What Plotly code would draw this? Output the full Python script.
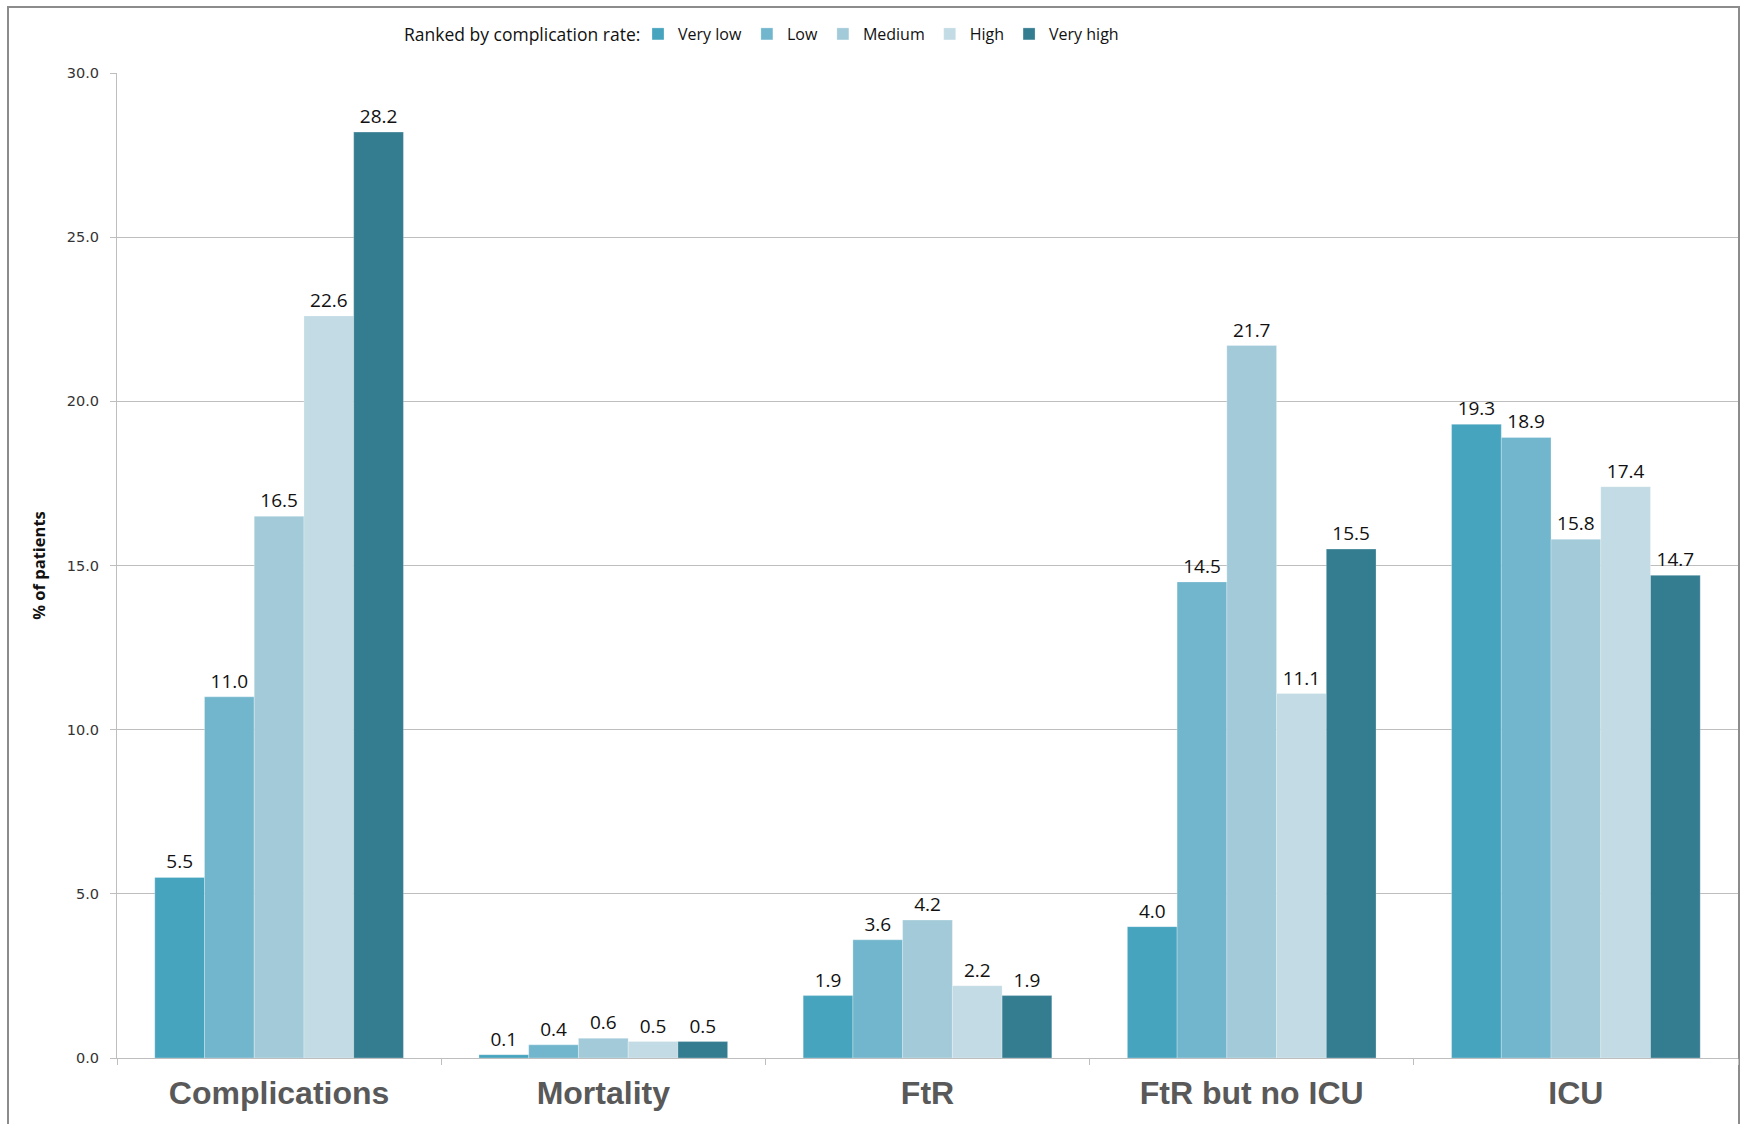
import plotly.graph_objects as go

# Outcome categories and ranking groups
categories = ["Complications", "Mortality", "FtR", "FtR but no ICU", "ICU"]
groups = ["Very low", "Low", "Medium", "High", "Very high"]

# % of patients per ranking group, in category order
very_low = [5.5, 0.1, 1.9, 4.0, 19.3]
low = [11.0, 0.4, 3.6, 14.5, 18.9]
medium = [16.5, 0.6, 4.2, 21.7, 15.8]
high = [22.6, 0.5, 2.2, 11.1, 17.4]
very_high = [28.2, 0.5, 1.9, 15.5, 14.7]

series = [very_low, low, medium, high, very_high]
colors = ["#47A4BE", "#72B6CD", "#A2CAD9", "#C2DBE4", "#347C90"]

W, H = 1741, 1124
ML, MR, MT, MB = 117, 3, 73, 66
PW = W - ML - MR
PH = H - MT - MB

fig = go.Figure()
for name, vals, col in zip(groups, series, colors):
    fig.add_trace(go.Bar(
        x=categories, y=vals, name=name,
        marker=dict(color=col, line=dict(color="rgba(255,255,255,0.45)", width=0.6)),
        text=[f"{v:.1f}" for v in vals], textposition="outside",
        textfont=dict(family="Open Sans", size=19, color="#111111"),
        cliponaxis=False,
    ))

legend_y = (H - MB - 34) / PH

fig.update_layout(
    width=W, height=H,
    margin=dict(l=ML, r=MR, t=MT, b=MB),
    paper_bgcolor="white", plot_bgcolor="white",
    barmode="group", bargap=0.233, bargroupgap=0,
    showlegend=True,
    legend=dict(
        orientation="h", x=(638 - ML) / PW, xanchor="left",
        y=legend_y, yanchor="middle",
        font=dict(family="Open Sans", size=16, color="#111111"),
        bgcolor="rgba(0,0,0,0)", itemwidth=30, tracegroupgap=0,
    ),
)

# Legend heading
fig.add_annotation(
    text="Ranked by complication rate:", xref="paper", yref="paper",
    x=(402 - ML) / PW, y=legend_y, xanchor="left", yanchor="middle",
    showarrow=False, font=dict(family="Open Sans", size=17.5, color="#111111"),
)

fig.update_xaxes(
    type="category",
    showline=True, linecolor="#BEBEBE", linewidth=1,
    ticks="outside", tickson="boundaries", ticklen=6, tickcolor="#BEBEBE",
    tickfont=dict(family="Liberation Sans", size=32, color="#595959", weight="bold"),
    ticklabelstandoff=7,
    showgrid=False,
)

fig.update_yaxes(
    range=[0, 30], tick0=0, dtick=5, tickformat=".1f",
    showline=True, linecolor="#BEBEBE", linewidth=1,
    ticks="outside", ticklen=6, tickcolor="#BEBEBE",
    tickfont=dict(family="DejaVu Sans", size=14.5, color="#333333"),
    ticklabelstandoff=8,
    showgrid=True, gridcolor="#BEBEBE", gridwidth=1,
    zeroline=False,
    title=dict(text="% of patients", standoff=17,
               font=dict(family="Open Sans", size=16.5, color="#111111", weight="bold")),
)

# Outer frame around the chart
fig.add_shape(
    type="rect", xref="paper", yref="paper",
    x0=(8 - ML) / PW, x1=(1739 - ML) / PW,
    y0=-0.3, y1=(H - MB - 7) / PH,
    line=dict(color="#8C8C8C", width=2), fillcolor="rgba(0,0,0,0)",
    layer="below",
)

fig.write_html("out.html")
